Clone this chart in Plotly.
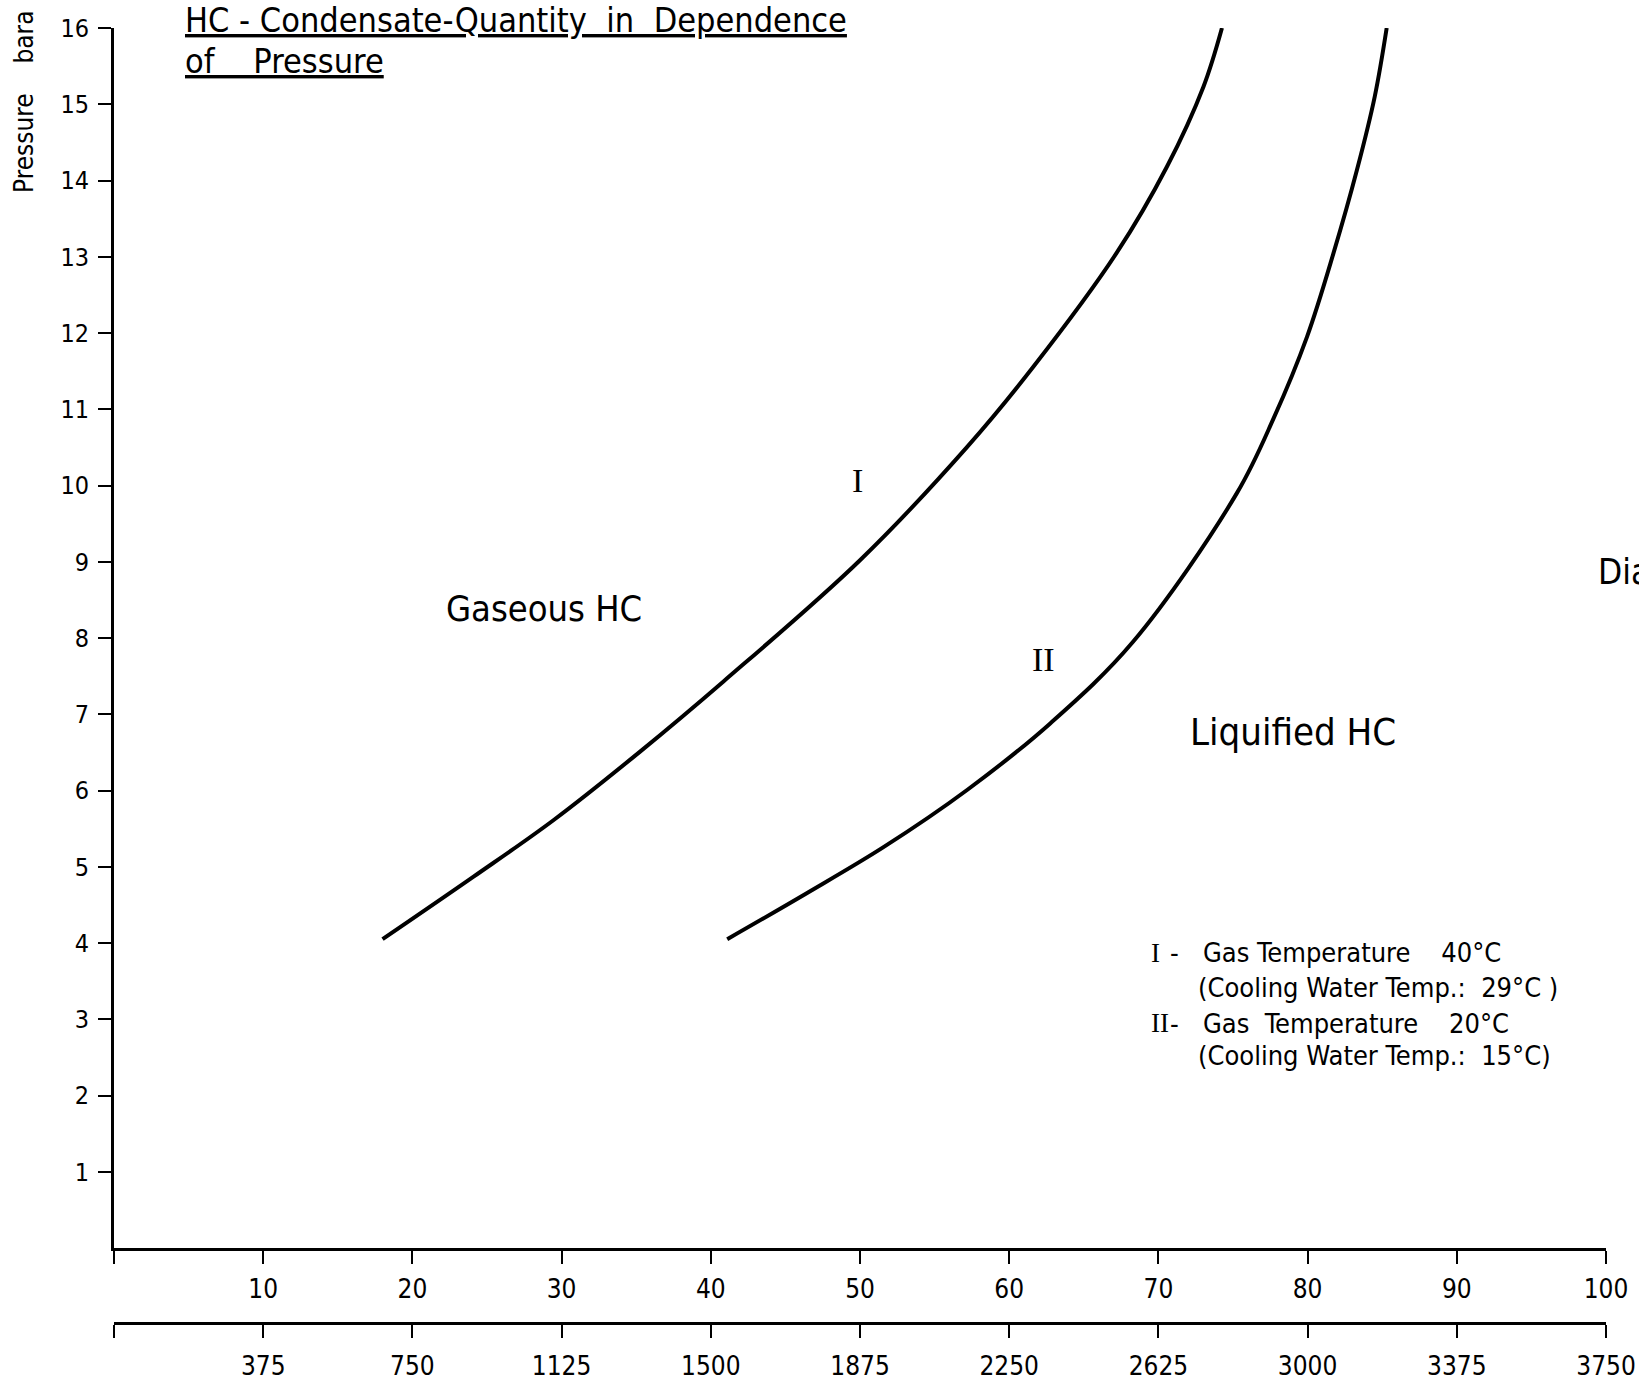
import plotly.graph_objects as go

# ---- data ----
curve1_x = [18.0, 24.1, 29.45, 35.26, 40.85, 50.0, 57.2, 61.63, 67.2, 70.57, 73.02, 74.26]
curve1_y = [4.05, 4.87, 5.61, 6.51, 7.43, 9.02, 10.51, 11.56, 13.05, 14.18, 15.23, 16.0]

curve2_x = [41.1, 46.4, 51.6, 57.2, 62.75, 68.3, 75.26, 77.72, 79.96, 81.74, 83.31, 84.5, 85.3]
curve2_y = [4.05, 4.65, 5.26, 6.01, 6.88, 7.95, 9.9, 10.88, 11.95, 13.05, 14.14, 15.1, 16.0]

x_ticks = [0, 10, 20, 30, 40, 50, 60, 70, 80, 90, 100]
x_ticktext = ["", "10", "20", "30", "40", "50", "60", "70", "80", "90", "100"]
x2_ticks = [0, 375, 750, 1125, 1500, 1875, 2250, 2625, 3000, 3375, 3750]
x2_ticktext = ["", "375", "750", "1125", "1500", "1875", "2250", "2625", "3000", "3375", "3750"]
y_ticks = list(range(1, 17))

NARROW = "Liberation Sans Narrow, DejaVu Sans Condensed, Arial Narrow, sans-serif"
SANS = "DejaVu Sans Condensed, DejaVu Sans, sans-serif"
SERIF = "Liberation Serif, DejaVu Serif, serif"
NB = "\u00a0"

W, H = 1639, 1382
ml, mr, mt, mb = 114, 33, 28, 59
plot_h = H - mt - mb
ydom0 = 75 / plot_h

fig = go.Figure()
for cx, cy in ((curve1_x, curve1_y), (curve2_x, curve2_y)):
    fig.add_trace(go.Scatter(x=cx, y=cy, mode="lines",
                             line=dict(color="black", width=4, shape="spline", smoothing=1.0),
                             hoverinfo="skip", showlegend=False))
# invisible trace to attach the secondary (lower) axis
fig.add_trace(go.Scatter(x=[x2_ticks[0], x2_ticks[-1]], y=[None, None], xaxis="x2",
                         mode="lines", opacity=0, hoverinfo="skip", showlegend=False))

axis_common = dict(showgrid=False, zeroline=False, showline=True, linecolor="black",
                   ticks="outside", tickcolor="black", tickwidth=2, ticklen=13,
                   automargin=False)

fig.update_layout(
    width=W, height=H,
    margin=dict(l=ml, r=mr, t=mt, b=mb, autoexpand=False),
    plot_bgcolor="white", paper_bgcolor="white",
    xaxis=dict(range=[0, 100], tickvals=x_ticks, ticktext=x_ticktext,
               tickfont=dict(family=NARROW, size=26, color="black"),
               linewidth=3, ticklabelstandoff=3, anchor="y", **axis_common),
    xaxis2=dict(range=[0, 3750], tickvals=x2_ticks, ticktext=x2_ticktext,
                tickfont=dict(family=NARROW, size=26, color="black"),
                linewidth=3, overlaying="x", anchor="free", position=0, side="bottom",
                ticklabelstandoff=6, **axis_common),
    yaxis=dict(range=[0, 16], domain=[ydom0, 1], tickvals=y_ticks,
               tickfont=dict(family=NARROW, size=25, color="black"),
               linewidth=3, ticklabelstandoff=4, **axis_common),
)

def px_to_paper_x(px):
    return (px - ml) / (W - ml - mr)

def px_to_paper_y(py):
    return (H - mb - py) / plot_h

ann = []
# title
ann.append(dict(text="<u>HC - Condensate-Quantity" + NB * 2 + "in" + NB * 2 + "Dependence</u>",
                xref="paper", yref="paper",
                x=px_to_paper_x(183), y=px_to_paper_y(20), xanchor="left", yanchor="middle",
                showarrow=False, font=dict(family=NARROW, size=34, color="black")))
ann.append(dict(text="<u>of" + NB * 4 + "Pressure</u>", xref="paper", yref="paper",
                x=px_to_paper_x(183), y=px_to_paper_y(61), xanchor="left", yanchor="middle",
                showarrow=False, font=dict(family=NARROW, size=34, color="black")))
# y axis title
ann.append(dict(text="Pressure" + NB * 4 + "bara", xref="paper", yref="paper", textangle=-90,
                x=px_to_paper_x(24), y=px_to_paper_y(102), xanchor="center", yanchor="middle",
                showarrow=False, font=dict(family=NARROW, size=26, color="black")))
# region labels
ann.append(dict(text="Gaseous HC", xref="x", yref="y", x=28.8, y=8.39, showarrow=False,
                font=dict(family=SANS, size=36, color="black")))
ann.append(dict(text="Liquified" + NB + "HC", xref="x", yref="y", x=79.0, y=6.77, showarrow=False,
                font=dict(family=SANS, size=38, color="black")))
# curve labels
ann.append(dict(text="I", xref="x", yref="y", x=49.8, y=10.06, showarrow=False,
                font=dict(family=SERIF, size=34, color="black")))
ann.append(dict(text="II", xref="x", yref="y", x=62.3, y=7.72, showarrow=False,
                font=dict(family=SERIF, size=34, color="black")))
# cut-off text at right edge (as in the reference)
ann.append(dict(text="Diagram", xref="paper", yref="paper", x=px_to_paper_x(1596),
                y=px_to_paper_y(572), xanchor="left", yanchor="middle", showarrow=False,
                font=dict(family=SANS, size=35, color="black")))
# legend block
leg_font = dict(family=NARROW, size=27, color="black")
leg_rows = [
    ("I", "Gas" + NB + "Temperature" + NB * 4 + "40°C", 3.87),
    ("", "(Cooling" + NB + "Water" + NB + "Temp.:" + NB * 2 + "29°C" + NB + ")", 3.41),
    ("II", "Gas" + NB * 2 + "Temperature" + NB * 4 + "20°C", 2.95),
    ("", "(Cooling" + NB + "Water" + NB + "Temp.:" + NB * 2 + "15°C)", 2.53),
]
for rom, txt, yy in leg_rows:
    if rom:
        ann.append(dict(text=rom, xref="x", yref="y", x=69.38, y=yy, xanchor="left",
                        yanchor="middle", showarrow=False,
                        font=dict(family=SERIF, size=27, color="black")))
        ann.append(dict(text="-", xref="x", yref="y", x=70.65, y=yy, xanchor="left",
                        yanchor="middle", showarrow=False, font=leg_font))
        ann.append(dict(text=txt, xref="x", yref="y", x=72.85, y=yy, xanchor="left",
                        yanchor="middle", showarrow=False, font=leg_font))
    else:
        ann.append(dict(text=txt, xref="x", yref="y", x=72.55, y=yy, xanchor="left",
                        yanchor="middle", showarrow=False, font=leg_font))

fig.update_layout(annotations=ann)

fig.write_html("out.html", config={"displayModeBar": False},
               post_script="document.body.style.margin='0';")
